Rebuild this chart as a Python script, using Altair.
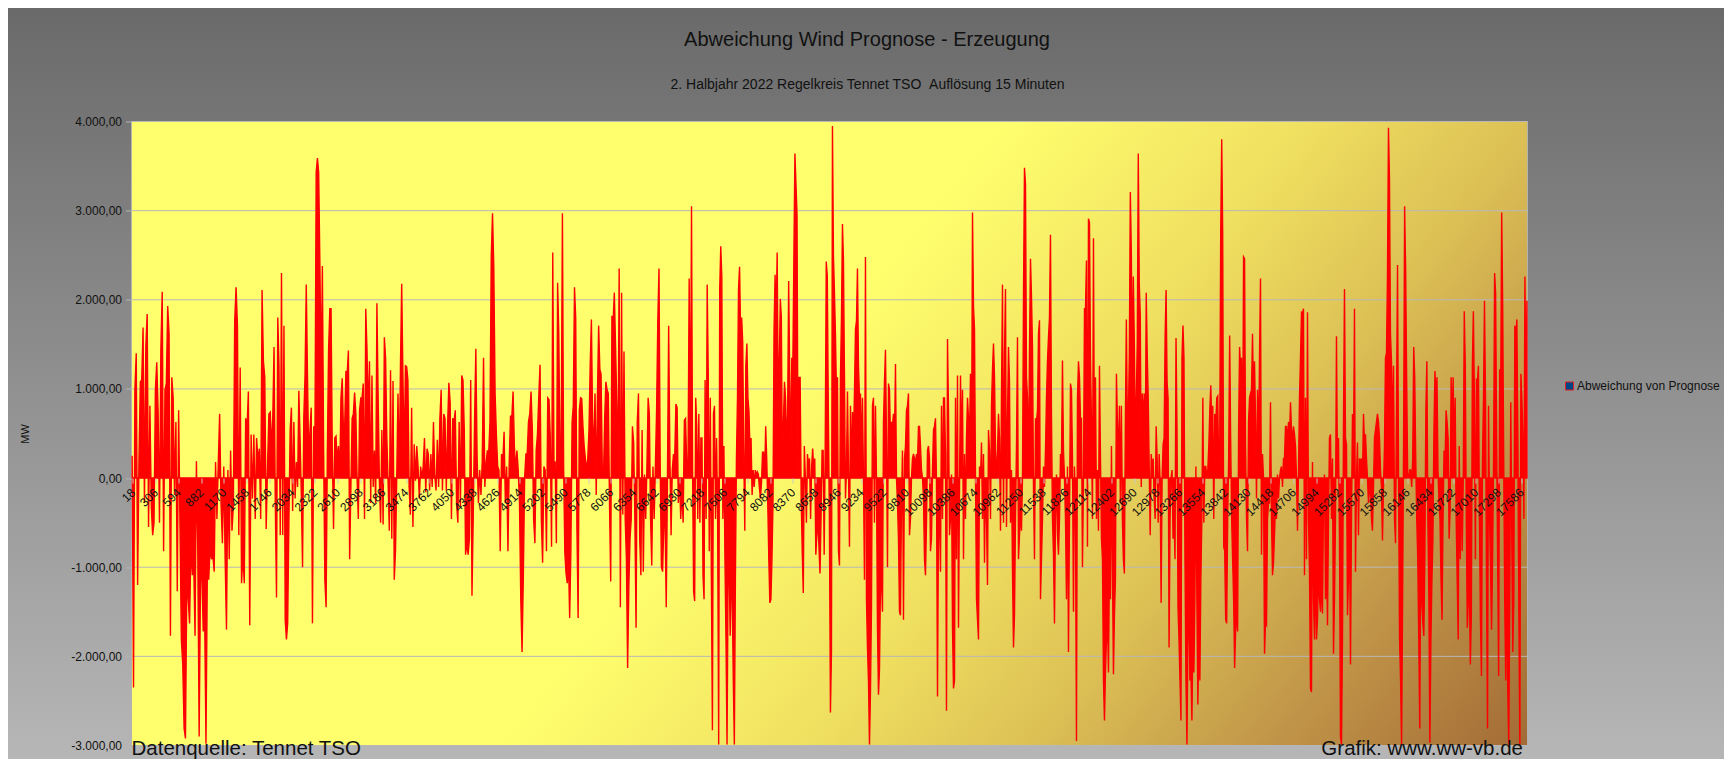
import altair as alt
import pandas as pd

TITLE = "Abweichung Wind Prognose - Erzeugung"
SUBTITLE = "2. Halbjahr 2022 Regelkreis Tennet TSO \u00a0Auflösung 15 Minuten"
SOURCE = "Datenquelle: Tennet TSO"
CREDIT = "Grafik: www.ww-vb.de"
SERIES = "Abweichung von Prognose"
Y_TITLE = "MW"

x_tick_values = list(range(18, 17664, 288))
y_tick_values = [-3000, -2000, -1000, 0, 1000, 2000, 3000, 4000]

# 15-minute slots (1 .. 17664), read in ten consecutive blocks
seg_bounds = [0, 1765, 3537, 5308, 7080, 8851, 10623, 12394, 14166, 15937, 17664]

seg0 = [250, -2350, 990, 1400, -1200, 220, 1080, 1100, 1690, -280, 1470, 1840, -550, 810, -320, -640, -500, 990, 1300, 740,
        -500, 1440, 2090, -820, 990, 1060, 1930, 1620, -1770, 1130, 900, -190, 630, -1270, 760, -550, -1810, -2090, -2810, -2920,
        -1140, -1360, -1630, -730, -1090, -950, -1770, 190, -820, -2900, -1140, -1090, -1720, -1520, -2980, -1000, -1140, -770, -910, -860,
        -1050, 180, -460, 180, 720, -280, -730, 130, -910, -1700, 90, -910, 310, -590, -320, 1760, 2140, 1710, -640, 1240,
        -1180, -860, -1180, 670, 560, 970, -1650, 490, -230, 490, -460, 450, 200, 330, -460, 2110, 1310, 1130, -570, 130, 720, 740]

seg1 = [310, 700, 1470, -280, -1340, 1800, 1260, -640, 2300, -640, 1710, -1590, -1810, -1630, -460, 540, 790, -370, 630, -230,
        180, -100, 980, 450, -190, -1000, 670, 1150, 2170, 1130, 180, 540, 790, -1630, 580, 450, 3430, 3590, 3430, 2390,
        1130, 2380, 310, -1140, -1450, 270, 1440, 1900, 1900, 310, -570, 450, 470, 180, 360, 0, 900, 1120, 540, 580,
        1200, 1170, 1430, -910, -100, 670, 720, 960, 720, 0, -460, 760, 900, 900, 1060, -460, 1900, 1440, 670, 1310,
        -280, 1150, -100, 310, -280, 1960, 900, -30, -500, 540, -520, 1580, 1350, 450, -30, -590, 1210, -680, 1090, -1140,
        -820, 0, 950, 0, 1260, 2180, 1130, 180, 1260, 1250, 1100, -100, -410]

seg2 = [790, -550, 380, -30, 360, 130, -230, 130, 0, 130, 450, -160, 330, 270, -140, 270, -100, 630, 40, -140,
        430, -100, 670, 990, -140, 720, 670, -140, 580, 1070, 850, -460, 670, 630, 760, -280, -500, 630, -320, 1150,
        1100, 540, -860, -730, -860, -680, 1100, -1320, -410, 630, 1450, 220, -280, 90, -190, 200, 1350, -100, 180, 310,
        270, 630, 2480, 2970, 2350, 950, 490, 130, 90, -820, 270, 180, 520, -280, 130, -820, 180, 700, 670, 970,
        360, 90, 310, 90, -280, -1360, -1950, -1090, 0, 270, 270, 630, 720, 970, 540, -460, -730, 310, 490, 900,
        1270, -460, -950, 130, 90, -820, 900, 880, 450]

seg3 = [-770, 2530, 180, 180, -730, 2190, 1620, 220, 450, 2970, 130, -840, -1070, -1180, -910, -1570, -820, 630, 810, 2140,
        1800, -550, -1570, 760, 900, 890, 580, 360, 220, 90, 220, 540, 1260, 1780, 630, 310, 950, -190, 900, 1710,
        1220, 1170, 130, 0, 670, 1080, 990, 950, -280, -1160, 1820, 1760, 2080, 1490, 850, 90, 2350, -1450, 2080, -410,
        1420, -460, -910, -2130, -1230, -680, -460, 580, 400, -460, -1680, 630, 950, -680, -1090, 540, -1050, 40, -460, 130,
        900, 720, -460, -980, 130, -460, 130, 760, 1760, 2350, 130, -1000, -1050, -500, -460, -1450, 0, 1710, 270, -640,
        90, 270, 220, 830, 790, -280, 0, -460, -140, -500, 650, 670, 130, 90, 2240, 270]

seg4 = [3050, 90, -1270, -1380, 900, 580, -460, 720, -500, 450, 450, -1090, -1360, 1100, -460, 2170, 1170, -820, 900, -1090,
        -2830, 720, 810, -460, 450, -460, -2990, 2120, 2600, 2260, -460, 360, -910, -1810, -2990, -1140, -910, -1770, -1140, -1360,
        -2270, -2990, -1140, 220, 900, 2120, 2370, 1620, 1800, 1530, 310, -590, 1260, 1510, 900, 740, 310, 450, -190, 90,
        -100, 90, 40, 70, 40, -110, -230, -50, 290, 290, 0, 580, 220, -280, -910, -1400, -1360, -910, -280, 1670,
        2280, 1760, 2530, 900, 1260, 2010, 1800, 0, 630, 1080, 900, 450, 670, 2210, 1170, 90, 1350, 1260, 2480, 3640,
        3300, 2960, 0, 1130, 1130, -230, -820, -1290, 360, 0, -500, 270, 130, 220, -460, 130, 330, 90, 220, -860,
        -640, -460, -770, -1070, -460, 310, 310, -860, 360, 2430, 2260, 720, -460, -2630]

seg5 = [-1950, 3950, 2480, 2080, 1600, 950, 1130, -820, -980, 1130, 1800, 2850, 2440, 1130, -230, 90, 970, 90, -770, 810,
        0, 740, 450, 950, 1670, 1760, 2350, 1260, 900, 950, 180, 900, 0, -1140, 2480, -1360, -1900, -2270, -2990, -2400,
        -1450, 810, 900, -500, 810, 0, -1680, -2430, -2150, -1180, -1140, -1500, 630, 1080, 1440, 450, -1000, 1060, 990, 450,
        630, 580, 720, 400, 1280, 0, -280, -680, -1500, -1540, -280, 310, -1590, 220, 360, 760, 810, 950, -640, -460,
        0, 220, 270, 220, 180, 270, 180, 580, 580, 360, 90, 0, -230, -910, -1090, -500, 310, 360, 220, -820,
        -680, 90, 540, 580, 670, -50, -2450, -460, -460, -1050, 810, -460, 900, 900, 270, -2610, 1560, 760, -640, -460,
        40, -1680, -2360, -2270, 900, -910, 1150, -1680, -100, 1150, 220, 990, -910, 270, -460, 450, 900, 670, 450, 1170]

seg6 = [40, 2980, 1920, 1670, 0, -1360, -1590, -1810, 130, 0, 400, -460, 270, -950, 0, -460, -1200, 540, 310, -460,
        810, 1220, 1510, 1130, 310, 0, 310, 720, 450, -590, 950, 2170, -500, 1400, 2120, -550, 670, 1470, 1080, -500,
        90, -1050, -1900, -1540, -460, 360, 1580, -910, -640, -370, -590, 0, 2030, 3480, 3300, 1130, 900, 0, 1440, 2460,
        2030, 1470, -100, -910, 670, 630, 760, 1620, 1770, -1360, -910, -460, 130, -100, 310, 900, 1310, 1580, 1800, 2730,
        670, -460, -860, -1630, -460, 40, -640, -860, -460, 270, 220, 1320, 310, 0, -460, -1360, 130, -1950, -460, 1060,
        990, 220, -1500, 130, -460, -2950, 900, 1310, 1130, 670, 670, -1000, 0, 1900, 1900, 2440, -770, 2910, 2870, 1350,
        630, -460, 2690, 0, 1130, -460, 90, -590, 1260, 220, -680, -910, -2270, -2720, -2180, -1810, -1590, -2180, -910, -1360]

seg7 = [360, -1050, -2200, -1540, -1140, 1170, 630, 180, 810, -280, 810, -460, -910, -1070, 630, 1780, 630, 670, 1400, 3210,
        2530, 1130, 2260, 1530, 450, 900, 1530, 3640, 2170, 1830, -100, 950, 630, 950, 180, 2080, 1400, 900, 130, -640,
        270, 90, 220, -230, -460, 580, 220, -500, 270, -50, -1400, 0, 380, 450, 1580, 2110, 1080, 900, -1900, -460,
        0, 90, -680, -460, -910, 1570, 540, -1450, -1810, -2270, -2720, 1350, 1710, 1350, -910, -2270, -2990, -1810, -1360, -2270,
        -2180, -2720, -1810, -2180, -1360, 130, -1360, -2540, -1810, -2270, -1140, -460, 900, -500, 130, 130, 0, 90, 360, 760,
        1040, 580, 810, -460, 720, 580, 900, 920, 40, 360, 2760, 3800, 2760, -770, -820, -1590, -1630, -460, 220, 1600,
        450, -460, -910, -1360, -2130, -1720, -1500, -1720, 540, 1470, 1220, 1350, 0, 2480, 2460, 360, -460, -820, 630, 900, 950]

seg8 = [990, 1620, 900, 1310, 670, -230, 990, 270, 1350, 2240, -860, 270, 0, -1970, -1630, -1650, -460, -280, -280, 850,
        -460, -1090, -950, -640, -280, -460, 40, -230, 0, 90, 130, -100, 220, 220, 580, 580, 400, 630, 450, 850,
        540, 450, 580, 490, 360, 0, -590, 90, 900, 1350, 1860, 1850, 1900, -1090, 900, -910, 1860, -460, -1050, -2360,
        -2400, 180, -1360, -1810, -910, -1810, -1590, -1000, -1360, -1500, -1140, -1520, -230, 40, -1360, -910, -1650, -460, 450, 490,
        -460, 220, -1970, -1360, -460, 1590, 0, 450, -680, -2900, -2990, -1810, 630, 2120, 450, 380, -1540, -1140, -460, -2090,
        -460, 720, 220, 1900, -1050, 0, 400, -640, 220, 180, 220, 0, 720, 400, 490, 220, 0, -280, -140, -100,
        -460, -590, -100, 450, 540, 630, 720, 630, 450, 90, -100, -700, -100, 360, 1350, 1400, 2260, 3930, 3340, 1620]

seg9 = [1310, 450, 1260, -460, -730, 900, 2390, 0, -1810, -2270, -2990, -1360, 450, 3050, 2350, 1130, 40, 0, 90, 90,
        -100, 220, 1470, 1130, 220, -460, -910, -1810, -2810, -460, -1400, -1630, -1770, -910, 760, 1310, -460, -1360, -2970, -1810,
        -1140, -680, 540, 1200, 900, 1130, 90, -280, -460, -1140, -1590, -460, 310, 180, 760, 630, 450, -680, -370, 1130,
        540, 1130, 180, 900, -460, -1140, -1810, 360, -910, 0, -820, 0, 1870, 1260, -460, -1680, -1360, -1140, -2090, -1540,
        1260, 1870, 900, -910, 1100, 1080, 1260, -460, -1590, -2220, 180, 900, 1990, 900, -1140, -2810, 810, -460, -1050, -1700,
        -910, 220, 2300, 2080, 450, -910, -2220, 1220, 900, 2980, 1940, 220, -1360, -2270, -1140, -2360, -2990, -1360, 850, -680,
        -1950, -1360, 1710, 1580, 1780, 450, -1540, -2990, 1170, 880, 450, -460, 2260, 900, 1990]

segments = [seg0, seg1, seg2, seg3, seg4, seg5, seg6, seg7, seg8, seg9]

rows = []
for s, vals in enumerate(segments):
    a, b = seg_bounds[s], seg_bounds[s + 1]
    n = len(vals)
    for j, v in enumerate(vals):
        rows.append({"idx": a + (j + 0.5) * (b - a) / n, "mw": v, "series": SERIES})
df = pd.DataFrame(rows)

# ---------------- layout ----------------
W, H = 1396, 624
PAD_L, PAD_T, PAD_R, PAD_B = 123.5, 113.5, 196.5, 13.5
FONT = "Liberation Sans"

x_scale = alt.Scale(domain=[0.5, 17664.5], nice=False, zero=False)
y_scale = alt.Scale(domain=[-3000, 4000], nice=False)
zero_offset = -(H - H * 4 / 7)

x_axis = alt.Axis(values=x_tick_values, format="d", title=None, labelAngle=315, labelAlign="right",
                  labelBaseline="middle", labelFontSize=12, labelColor="#111111", labelFont=FONT, labelPadding=7,
                  labelOverlap=False, ticks=True, tickSize=5, tickColor="#c8c8c8", domain=False, grid=False,
                  offset=zero_offset, zindex=1)
y_axis = alt.Axis(values=y_tick_values, format=",.2f", title=Y_TITLE, titleAngle=270, titleX=-106.5, titleY=H / 2,
                  titleAlign="center", titleBaseline="middle", titleFontSize=11, titleFontWeight="normal",
                  titleColor="#111111", titleFont=FONT,
                  labelFontSize=12, labelColor="#111111", labelFont=FONT, labelPadding=4,
                  ticks=True, tickSize=6, tickColor="#b3b3b3", domain=False, grid=False, zindex=1)

one = pd.DataFrame({"k": [0]})

page_bg = alt.Chart(one).mark_rect(
    fill=alt.LinearGradient(gradient="linear", x1=0, y1=0, x2=0, y2=1,
                            stops=[alt.GradientStop(color="#6a6a6a", offset=0),
                                   alt.GradientStop(color="#b6b6b6", offset=1)])
).encode(x=alt.value(-PAD_L), x2=alt.value(W + PAD_R), y=alt.value(-PAD_T), y2=alt.value(H + PAD_B))

plot_bg = alt.Chart(one).mark_rect(
    fill=alt.LinearGradient(gradient="linear", x1=0, y1=0, x2=1.2, y2=0.433,
                            stops=[alt.GradientStop(color="#ffff6e", offset=0),
                                   alt.GradientStop(color="#ffff6e", offset=0.46),
                                   alt.GradientStop(color="#f0e060", offset=0.62),
                                   alt.GradientStop(color="#dcc055", offset=0.74),
                                   alt.GradientStop(color="#c09448", offset=0.87),
                                   alt.GradientStop(color="#a36c36", offset=1)]),
    stroke="#b3b3b3", strokeWidth=1
).encode(x=alt.value(0), x2=alt.value(W), y=alt.value(0), y2=alt.value(H))

grid = alt.Chart(pd.DataFrame({"mw": y_tick_values})).mark_rule(color="#b8b8b8", strokeWidth=1).encode(
    y=alt.Y("mw:Q", scale=y_scale, axis=y_axis)
)

area = alt.Chart(df).mark_area(fill="#ff0000", stroke="#ff0000", strokeWidth=1.4, interpolate="linear").encode(
    x=alt.X("idx:Q", scale=x_scale, axis=x_axis),
    y=alt.Y("mw:Q", scale=y_scale, axis=y_axis),
    y2=alt.datum(0),
)

legend_df = pd.DataFrame({"label": [SERIES]})
legend_sym = alt.Chart(legend_df).mark_square(size=64, fill="#004586", stroke="#e02020", strokeWidth=1, opacity=1).encode(
    x=alt.value(1438), y=alt.value(264.5)
)
legend_txt = alt.Chart(legend_df).mark_text(align="left", baseline="middle", fontSize=12, font=FONT, color="#111111").encode(
    x=alt.value(1445.5), y=alt.value(264.5), text="label:N"
)

text_df = pd.DataFrame({"title": [TITLE], "subtitle": [SUBTITLE], "source": [SOURCE], "credit": [CREDIT]})
title_t = alt.Chart(text_df).mark_text(align="center", baseline="middle", fontSize=20, font=FONT, color="#111111").encode(
    x=alt.value(735.5), y=alt.value(-81.5), text="title:N")
subtitle_t = alt.Chart(text_df).mark_text(align="center", baseline="middle", fontSize=14, font=FONT, color="#111111").encode(
    x=alt.value(736), y=alt.value(-36.5), text="subtitle:N")
source_t = alt.Chart(text_df).mark_text(align="left", baseline="alphabetic", fontSize=20.5, font=FONT, color="#111111").encode(
    x=alt.value(0), y=alt.value(633), text="source:N")
credit_t = alt.Chart(text_df).mark_text(align="right", baseline="alphabetic", fontSize=20.5, font=FONT, color="#111111").encode(
    x=alt.value(1391.5), y=alt.value(633), text="credit:N")

chart = alt.layer(
    page_bg, plot_bg, grid, area, legend_sym, legend_txt, title_t, subtitle_t, source_t, credit_t
).properties(
    width=W, height=H,
    autosize=alt.AutoSizeParams(type="none"),
    padding={"left": PAD_L, "top": PAD_T, "right": PAD_R, "bottom": PAD_B},
).configure(
    font=FONT,
    locale={"number": {"decimal": ",", "thousands": ".", "grouping": [3], "currency": ["", " €"], "minus": "-"}},
).configure_view(strokeWidth=0)

chart.save("out.html", embed_options={"renderer": "svg", "actions": False})
